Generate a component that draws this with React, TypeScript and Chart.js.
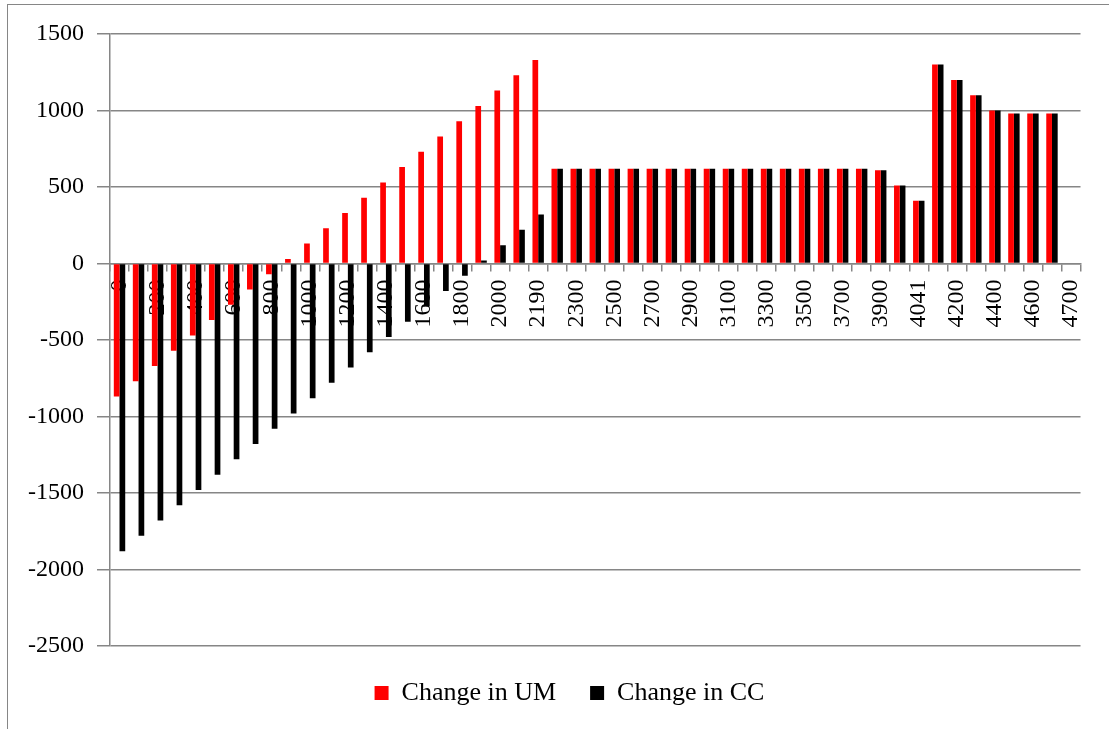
import React, { useEffect, useRef } from 'react';
import { Chart, registerables } from 'chart.js';

Chart.register(...registerables);

const categories = [
  '0', '100', '200', '300', '400', '500', '600', '700', '800', '900',
  '1000', '1100', '1200', '1300', '1400', '1500', '1600', '1700', '1800', '1900',
  '2000', '2100', '2190', '2200', '2300', '2400', '2500', '2600', '2700', '2800',
  '2900', '3000', '3100', '3200', '3300', '3400', '3500', '3600', '3700', '3800',
  '3900', '4000', '4041', '4100', '4200', '4300', '4400', '4500', '4600', '4650',
  '4700',
];

const changeInUM = [
  -870, -770, -670, -570, -470, -370, -270, -170, -70, 30,
  130, 230, 330, 430, 530, 630, 730, 830, 930, 1030,
  1130, 1230, 1330, 620, 620, 620, 620, 620, 620, 620,
  620, 620, 620, 620, 620, 620, 620, 620, 620, 620,
  610, 510, 410, 1300, 1200, 1100, 1000, 980, 980, 980,
  null,
];

const changeInCC = [
  -1880, -1780, -1680, -1580, -1480, -1380, -1280, -1180, -1080, -980,
  -880, -780, -680, -580, -480, -380, -280, -180, -80, 20,
  120, 220, 320, 620, 620, 620, 620, 620, 620, 620,
  620, 620, 620, 620, 620, 620, 620, 620, 620, 620,
  610, 510, 410, 1300, 1200, 1100, 1000, 980, 980, 980,
  null,
];

const yMin = -2500;
const yMax = 1500;
const yStep = 500;

const GRID = '#868686';
const FONT = 'Liberation Serif, "Times New Roman", serif';

const legendShift = {
  id: 'legendShift',
  afterLayout(chart: any) {
    const lg = chart.legend;
    if (lg) {
      lg.left += 13;
      lg.right += 13;
    }
  },
};

export default function App() {
  const ref = useRef<HTMLCanvasElement | null>(null);

  useEffect(() => {
    if (!ref.current) return;
    Chart.defaults.font.family = FONT;
    Chart.defaults.color = '#000';
    const chart = new Chart(ref.current, {
      type: 'bar',
      data: {
        labels: categories,
        datasets: [
          {
            label: 'Change in UM',
            data: changeInUM,
            backgroundColor: '#ff0000',
            borderWidth: 0,
            categoryPercentage: 0.6,
            barPercentage: 1.0,
          },
          {
            label: 'Change in CC',
            data: changeInCC,
            backgroundColor: '#000000',
            borderWidth: 0,
            categoryPercentage: 0.6,
            barPercentage: 1.0,
          },
        ],
      },
      plugins: [legendShift],
      options: {
        responsive: false,
        animation: false,
        layout: { padding: { left: 24, right: 20, top: 34, bottom: 13 } },
        plugins: {
          tooltip: { enabled: false },
          legend: {
            position: 'bottom',
            labels: {
              boxWidth: 14,
              boxHeight: 14,
              padding: 34,
              color: '#000',
              font: { size: 26, family: FONT },
            },
          },
        },
        scales: {
          x: {
            position: { y: 0 } as any,
            offset: true,
            grid: {
              offset: true,
              drawOnChartArea: false,
              drawTicks: true,
              tickLength: 7,
              color: GRID,
              lineWidth: 1.5,
            },
            border: { display: true, color: GRID, width: 1.5 },
            ticks: {
              autoSkip: false,
              minRotation: 90,
              maxRotation: 90,
              padding: 9,
              color: '#000',
              font: { size: 24, family: FONT },
              callback: function (this: any, value: any, index: number) {
                return index % 2 === 0 ? this.getLabelForValue(value) : '';
              },
            },
            afterFit: (s: any) => {
              s.height = 4;
            },
          },
          y: {
            min: yMin,
            max: yMax,
            grid: {
              color: GRID,
              lineWidth: 1.5,
              drawTicks: true,
              tickLength: 13,
            },
            border: { display: true, color: GRID, width: 1.5 },
            ticks: {
              stepSize: yStep,
              padding: 13,
              color: '#000',
              font: { size: 24, family: FONT },
              callback: (v: any) => String(v),
            },
            afterFit: (s: any) => {
              s.width = 86;
            },
          },
        },
      },
    });
    return () => chart.destroy();
  }, []);

  return (
    <div
      style={{
        position: 'absolute',
        left: 0,
        top: 0,
        width: 1109,
        height: 729,
        overflow: 'hidden',
        background: '#fff',
      }}
    >
      <div
        style={{
          position: 'absolute',
          left: 7,
          top: 4,
          width: 1200,
          height: 800,
          borderLeft: '1px solid #868686',
          borderTop: '1px solid #868686',
        }}
      />
      <canvas
        ref={ref}
        width={1109}
        height={729}
        style={{ position: 'absolute', left: 0, top: 0, display: 'block' }}
      />
    </div>
  );
}
